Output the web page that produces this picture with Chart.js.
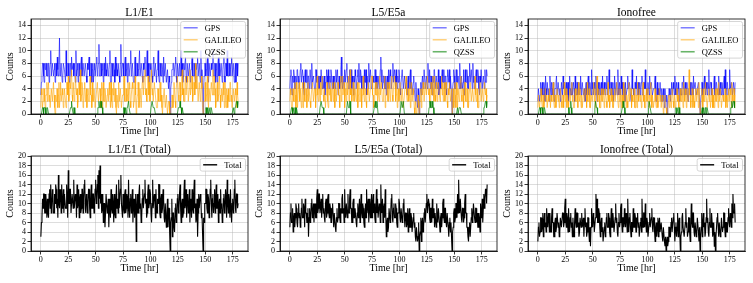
<!DOCTYPE html>
<html><head><meta charset="utf-8">
<script src="https://cdn.jsdelivr.net/npm/chart.js@4/dist/chart.umd.min.js"></script>
<style>
html,body{margin:0;padding:0;background:#fff;}
#wrap{position:relative;width:753px;height:283px;overflow:hidden;background:#fff;}
canvas{position:absolute;}
</style></head><body><div id="wrap"></div>
<script>
// ---------- DATA (half-hour samples, 0..180 hr) ----------
const hours = Array.from({length:361},(_,i)=>i/2);
const xTicks = [0,25,50,75,100,125,150,175];
const yTicksTop = [0,2,4,6,8,10,12,14];
const yTicksBottom = [0,2,4,6,8,10,12,14,16,18,20];
const seriesNames = ['GPS','GALILEO','QZSS'];
const panelTitles = ['L1/E1','L5/E5a','Ionofree','L1/E1 (Total)','L5/E5a (Total)','Ionofree (Total)'];

const gpsL1 = [
3,5,6,8,8,6,5,8,7,8,8,6,6,8,8,5,7,8,10,6,
6,8,8,6,7,8,5,8,8,6,9,7,6,8,12,6,7,8,8,5,
6,8,8,7,7,5,10,6,6,8,8,6,5,8,8,6,9,7,7,8,
6,8,8,5,10,6,7,8,5,8,8,6,6,8,9,6,7,8,8,6,
6,8,8,6,5,8,7,8,9,6,6,8,8,5,7,8,5,7,8,6,
6,8,9,6,7,8,11,6,6,8,8,6,7,8,5,8,8,6,9,7,
6,8,8,6,7,8,10,5,5,8,8,6,6,8,7,5,9,6,8,7,
6,8,8,6,5,8,11,6,7,8,8,6,6,8,9,6,7,8,5,8,
8,6,6,8,10,6,7,8,8,5,5,8,9,6,6,8,8,6,7,8,
10,6,6,8,8,6,5,8,7,8,9,6,6,8,10,6,8,5,6,8,
7,8,8,6,5,8,9,6,6,8,8,5,7,8,10,6,5,8,8,6,
6,8,7,5,9,6,6,8,8,5,5,7,7,4,6,5,0,4,5,7,
7,8,8,6,6,8,9,6,5,8,8,6,7,8,6,8,10,6,8,5,
6,8,7,8,9,6,5,8,8,6,6,8,8,5,7,8,9,6,6,8,
8,6,5,8,7,8,9,6,6,8,8,5,10,6,7,5,0,4,6,8,
8,6,7,8,9,6,5,8,8,6,6,8,7,8,10,6,6,8,8,5,
7,8,5,8,9,6,8,6,6,8,8,5,7,8,9,6,5,8,8,6,
10,6,6,8,8,6,7,8,9,6,6,8,8,5,7,8,5,8,8,6,
8];
const galL1 = [
1,4,3,1,2,4,4,2,1,3,3,5,2,4,5,2,3,1,1,4,
4,2,2,5,3,1,0,3,2,4,4,1,3,5,1,3,5,2,2,4,
3,1,2,4,4,2,1,5,5,3,6,2,3,5,4,6,7,3,2,5,
5,2,3,6,6,3,4,1,2,5,5,3,7,2,3,5,4,1,2,4,
5,2,3,4,1,3,4,2,2,5,6,3,3,1,5,2,2,4,4,1,
1,3,3,5,5,2,2,4,4,1,3,5,1,4,5,2,2,4,3,1,
1,3,4,2,2,5,3,1,5,2,1,4,3,5,2,4,4,1,0,3,
3,1,5,2,2,4,4,1,1,3,3,5,6,2,2,4,4,2,3,5,
2,4,5,2,1,3,3,5,4,1,2,4,6,3,0,2,3,5,5,1,
2,4,4,1,1,5,6,3,3,6,7,3,4,2,2,6,6,3,5,2,
3,6,7,3,4,2,2,5,5,3,3,1,1,4,4,2,2,5,5,2,
3,1,0,2,2,4,4,1,1,3,3,0,0,2,2,0,0,1,1,3,
3,1,2,5,5,2,1,4,4,6,6,3,2,5,5,2,3,6,7,3,
4,2,2,5,6,3,3,6,5,2,2,4,7,3,4,6,6,2,3,5,
5,3,8,4,4,6,6,2,2,5,5,2,3,6,4,1,0,2,2,4,
5,2,3,5,6,2,1,4,4,2,2,5,5,3,7,3,3,6,4,1,
2,4,5,2,3,5,6,3,1,3,4,2,2,5,3,1,5,3,1,4,
3,1,4,2,2,5,5,2,3,1,1,4,4,2,2,4,3,1,5,3,
2];
const qzssL1 = [
0,0,0,1,1,0,1,1,1,0,0,1,1,1,0,0,0,0,0,0,
0,0,0,0,0,0,0,0,0,0,0,0,0,0,0,0,0,0,0,0,
0,0,0,0,0,0,0,0,0,0,0,0,0,0,1,1,2,1,1,0,
1,1,0,0,0,0,0,0,0,0,0,0,0,0,0,0,0,0,0,0,
0,0,0,0,0,0,0,0,0,0,0,0,0,0,0,0,0,0,0,0,
0,0,0,0,1,1,2,1,1,2,2,1,1,0,0,0,0,0,0,0,
0,0,0,0,0,0,0,0,0,0,0,0,0,0,0,0,0,0,0,0,
0,0,0,0,0,0,0,0,0,0,0,1,1,0,1,1,0,1,1,1,
2,1,1,0,0,0,0,0,0,0,0,0,0,0,0,0,0,0,0,0,
0,0,0,0,0,0,0,0,0,0,0,0,0,0,0,0,0,0,0,0,
0,1,1,2,2,1,1,1,1,0,0,0,0,0,0,0,0,0,0,0,
0,0,0,0,0,0,0,0,0,0,0,0,0,0,0,0,0,0,0,0,
0,0,0,0,0,0,0,0,0,0,0,1,1,1,2,1,1,0,1,1,
0,0,0,0,0,0,0,0,0,0,0,0,0,0,0,0,0,0,0,0,
0,0,0,0,0,0,0,0,0,0,0,0,0,0,0,0,0,0,0,0,
0,1,1,0,1,1,0,1,1,0,1,1,1,0,0,0,0,0,0,0,
0,0,0,0,0,0,0,0,0,0,0,0,0,0,0,0,0,0,0,0,
0,0,0,0,0,0,0,0,0,0,0,1,1,0,1,1,1,2,2,1,
2];
const totalL1 = [
3,6,7,11,9,12,12,8,8,12,10,7,11,8,7,12,13,9,14,8,
9,13,12,8,8,12,10,14,13,9,11,7,16,10,9,13,12,8,14,9,
10,13,8,12,12,9,9,14,11,7,17,10,10,13,13,8,8,12,12,9,
15,9,9,12,11,7,14,9,10,13,7,11,12,8,9,13,13,8,11,14,
15,9,8,12,11,8,10,13,13,9,7,11,14,9,9,12,12,8,10,13,
15,10,11,14,16,9,17,11,18,10,12,8,9,12,6,10,10,5,8,12,
12,8,9,11,5,9,11,7,13,9,8,12,10,6,12,8,7,11,14,9,
11,8,15,9,9,13,16,10,10,7,12,9,8,12,13,8,9,12,11,7,
15,9,7,11,12,8,10,13,6,10,11,7,9,12,2,9,12,8,8,12,
14,9,10,6,7,11,13,9,9,12,15,10,11,7,8,12,14,9,10,13,
12,8,6,10,15,9,9,12,11,7,13,9,8,11,10,14,14,8,7,11,
12,8,9,13,11,7,6,10,10,5,8,11,5,9,9,4,0,6,7,11,
3,8,8,5,4,9,10,6,7,11,12,8,9,12,14,9,6,10,11,7,
8,12,15,9,10,13,7,11,12,8,9,13,6,10,11,7,13,9,8,12,
15,9,10,6,7,11,3,8,12,9,9,12,11,7,8,4,0,7,6,10,
10,13,13,9,8,12,11,7,9,13,15,10,7,11,12,8,10,13,8,11,
14,9,9,12,6,10,11,8,13,9,10,6,7,11,12,8,9,13,11,7,
15,10,8,12,10,7,13,9,6,10,11,8,9,13,15,9,8,12,12,9,
10];

const gpsL5 = [
4,6,7,4,3,6,5,7,6,4,4,6,5,7,7,5,6,4,4,7,
8,5,5,7,6,4,3,6,7,5,5,7,4,6,6,4,5,7,7,4,
8,5,5,6,6,4,4,7,7,5,5,6,6,4,4,6,5,7,7,4,
6,4,4,6,3,5,5,7,6,4,7,5,4,6,5,7,6,4,5,6,
4,6,6,4,7,5,5,7,3,5,6,4,5,7,9,5,4,6,6,4,
7,5,5,7,8,5,6,4,4,7,5,7,7,4,6,5,3,6,5,7,
6,4,4,6,7,5,8,5,5,7,6,4,4,6,6,4,7,5,5,7,
3,6,6,4,8,5,5,7,7,4,4,6,6,5,5,7,7,4,6,5,
4,6,6,4,5,7,9,5,7,4,5,6,6,4,4,6,3,5,6,4,
7,5,5,7,6,4,4,6,8,5,5,7,6,4,7,5,4,6,5,7,
6,4,3,5,5,7,7,4,4,6,6,4,5,6,3,5,6,4,4,6,
7,4,5,3,3,5,6,4,4,2,5,3,3,1,4,2,0,3,4,5,
3,5,6,4,5,7,7,4,4,6,6,4,8,5,5,7,4,6,6,4,
3,6,5,7,7,4,4,6,6,4,5,7,3,5,6,4,4,6,7,5,
5,7,4,6,6,4,3,6,7,5,5,7,4,6,6,3,0,4,5,7,
6,4,4,7,7,5,5,6,6,4,8,5,4,6,6,4,5,7,3,5,
7,5,5,7,6,4,4,6,8,5,5,7,7,4,8,5,6,4,4,6,
7,5,5,7,6,4,3,6,5,7,7,4,4,6,6,4,7,5,5,7,
6];
const galL5 = [
2,4,3,1,1,4,4,2,2,5,3,1,5,2,1,3,3,5,2,4,
4,1,3,5,1,3,5,2,2,4,4,1,3,5,2,4,4,2,1,3,
3,5,5,2,2,4,4,1,3,5,6,3,2,4,4,2,5,3,3,6,
6,3,2,4,4,1,3,5,5,2,1,4,3,5,4,2,2,4,5,2,
3,5,1,3,4,2,2,5,5,3,3,1,4,6,2,4,6,3,3,5,
1,3,4,2,5,3,3,6,2,4,7,3,4,2,3,5,5,2,2,4,
4,2,3,5,1,3,5,2,2,4,4,1,3,5,6,3,2,4,4,2,
1,4,3,5,5,2,2,4,4,6,6,3,3,1,2,4,5,3,3,5,
2,4,4,2,6,3,3,5,5,2,2,4,4,6,1,3,3,5,5,2,
2,5,4,2,3,5,6,3,2,4,4,6,5,2,3,5,1,3,4,2,
3,5,5,2,2,4,4,1,1,3,3,5,6,3,2,4,4,2,3,5,
1,3,5,2,2,4,3,1,0,2,2,0,1,3,3,1,0,2,2,4,
1,4,3,5,4,2,2,5,5,3,3,6,6,3,4,2,2,5,5,3,
3,6,4,2,6,3,2,5,4,2,3,5,5,3,2,4,4,6,3,5,
2,4,5,2,3,5,4,2,1,4,3,5,5,2,2,4,0,2,4,1,
2,5,3,1,5,3,1,4,4,2,3,5,6,3,2,4,4,1,3,5,
5,2,2,4,4,1,1,3,3,5,5,2,2,4,4,2,3,5,6,3,
2,4,4,1,1,3,3,5,5,2,2,4,4,2,3,5,5,3,4,2,
3];
const qzssL5 = [
0,0,0,1,1,0,1,1,0,1,1,0,1,1,0,0,0,0,0,0,
0,0,0,0,0,0,0,0,0,0,0,0,0,0,0,0,0,0,0,0,
0,0,0,0,0,0,0,0,0,0,0,0,0,0,0,1,1,2,2,1,
1,1,0,0,0,0,0,0,0,0,0,0,0,0,0,0,0,0,0,0,
0,0,0,0,0,0,0,0,0,0,0,0,0,0,0,0,0,0,0,0,
0,0,0,0,0,2,2,1,1,2,2,0,0,0,0,0,0,0,0,0,
0,0,0,0,0,0,0,0,0,0,0,0,0,0,0,0,0,0,0,0,
0,0,0,0,0,0,0,0,0,0,0,0,0,0,1,1,2,1,1,2,
1,0,0,0,0,0,0,0,0,0,0,0,0,0,0,0,0,0,0,0,
0,0,0,0,0,0,0,0,0,0,0,0,0,0,0,0,0,0,0,0,
0,0,0,2,2,1,1,2,2,0,0,0,0,0,0,0,0,0,0,0,
0,0,0,0,0,0,0,0,0,0,0,0,0,0,0,0,0,0,0,0,
0,0,0,0,0,0,0,0,0,0,0,0,0,0,1,2,2,1,1,2,
2,1,1,0,0,0,0,0,0,0,0,0,0,0,0,0,0,0,0,0,
0,0,0,0,0,0,0,0,0,0,0,0,0,0,0,0,0,0,0,0,
0,0,0,0,0,0,1,0,0,1,1,1,1,0,0,0,0,0,0,0,
0,0,0,0,0,0,0,0,0,0,0,0,0,0,0,0,0,0,0,0,
0,0,0,0,0,0,0,0,0,0,0,0,0,0,1,1,1,2,2,1,
2];
const totalL5 = [
5,8,10,6,6,9,4,7,8,5,7,10,9,6,5,8,10,7,8,5,
6,9,11,7,7,10,9,5,11,8,8,6,6,9,3,7,9,6,7,10,
11,7,8,10,6,9,10,7,7,11,13,8,9,12,12,8,8,11,7,10,
12,8,9,7,6,10,11,7,8,11,12,8,7,10,9,6,6,9,10,7,
5,8,8,5,4,7,9,6,7,10,10,7,6,9,8,11,12,8,9,6,
13,8,7,10,10,7,12,8,8,11,13,9,9,6,6,10,11,7,7,9,
9,6,5,8,10,7,8,11,6,9,12,8,7,10,9,6,5,8,10,7,
13,8,8,11,6,9,11,7,9,12,7,10,12,8,10,7,6,9,13,8,
11,7,7,10,9,6,14,9,8,11,6,9,10,7,13,8,3,6,7,4,
5,9,9,6,8,11,12,7,6,9,10,7,7,10,9,6,5,8,8,11,
10,7,6,9,9,6,7,10,11,7,5,8,8,5,6,9,4,7,9,5,
5,8,7,4,4,7,8,5,6,3,2,5,5,2,3,6,0,3,4,7,
2,6,7,4,5,8,9,6,6,10,12,8,8,11,10,7,6,9,9,6,
11,7,7,9,5,8,8,5,10,7,6,9,9,6,4,7,8,5,7,10,
11,7,6,9,9,6,5,8,8,5,3,6,7,4,6,3,0,4,5,8,
9,6,7,10,10,7,12,8,15,9,8,11,11,7,6,9,9,6,7,10,
12,8,8,5,5,3,2,5,6,3,3,7,9,6,7,10,10,7,6,9,
9,6,8,5,5,8,7,4,10,7,8,11,6,9,12,9,11,13,13,10,
14];

const gpsIF = [
2,4,4,2,3,5,4,3,5,3,3,5,4,2,6,4,3,5,5,3,
4,2,6,4,3,5,4,3,5,3,2,4,4,5,6,3,3,5,5,3,
4,2,3,5,5,3,6,4,4,5,3,4,5,3,4,5,2,4,6,3,
4,3,5,3,3,5,4,2,6,4,3,5,5,3,4,5,3,4,6,3,
4,5,5,3,3,4,2,4,5,3,4,5,6,3,3,5,4,3,7,4,
5,3,3,5,4,3,6,4,2,4,5,3,4,5,3,4,5,3,6,4,
3,5,4,3,5,4,6,3,4,5,7,4,3,5,5,3,4,5,2,4,
6,3,4,5,5,3,7,4,3,5,4,3,6,4,5,3,3,5,4,2,
5,3,3,4,6,4,4,5,5,3,2,4,7,4,4,3,3,5,5,4,
6,3,4,5,3,4,5,3,4,5,6,3,3,5,5,4,7,4,4,3,
3,5,5,3,6,4,4,5,5,3,3,4,4,5,6,3,2,4,5,3,
4,3,3,5,5,2,4,3,2,4,3,1,4,2,2,3,0,2,3,4,
4,3,2,4,5,3,3,5,4,3,6,4,3,5,4,3,5,4,2,4,
4,3,3,5,5,4,6,3,4,5,3,4,5,3,2,4,4,5,5,3,
3,5,4,3,6,4,4,5,5,3,3,4,4,5,5,2,0,2,3,5,
5,3,4,5,6,4,3,5,4,3,5,4,7,3,4,5,5,3,3,4,
4,5,6,3,3,5,5,4,4,3,6,4,3,5,4,3,5,4,3,5,
6,4,7,3,4,5,5,3,3,4,7,4,4,5,5,3,3,5,4,3,
5];
const galIF = [
1,3,3,1,2,4,4,2,1,3,3,1,2,4,4,2,3,1,1,3,
2,4,4,1,3,2,2,4,5,2,1,3,3,1,2,4,4,2,3,1,
2,4,4,2,1,3,3,1,5,3,2,4,4,1,3,2,1,3,4,2,
2,4,5,2,3,1,1,3,4,2,2,4,3,1,5,3,2,4,4,1,
3,1,1,3,4,2,2,4,3,1,5,2,2,4,4,1,1,3,3,2,
2,4,5,2,4,1,3,5,6,2,2,4,3,1,1,3,4,2,2,4,
3,1,2,4,4,2,1,3,5,2,3,1,2,4,4,2,3,1,1,3,
4,2,2,4,5,3,3,1,4,2,2,4,1,3,3,1,5,2,2,4,
4,1,3,2,1,3,5,2,2,4,4,1,3,2,2,4,4,1,1,3,
3,1,5,3,2,4,4,2,3,1,2,4,5,2,3,1,1,3,4,2,
2,4,4,1,3,2,5,3,1,3,3,1,2,4,4,2,1,3,3,1,
2,4,4,2,3,1,1,3,2,0,1,2,3,1,1,0,0,1,2,3,
1,3,3,1,2,4,4,2,1,3,3,1,2,4,4,2,3,1,1,3,
4,2,2,4,3,1,5,3,2,4,3,1,4,2,2,4,7,3,3,1,
2,4,4,1,3,2,1,3,4,2,2,4,3,1,5,2,0,1,2,4,
3,1,4,2,2,4,5,3,3,1,1,3,4,2,3,1,2,4,4,1,
3,1,1,3,4,2,2,4,3,1,5,2,2,4,4,1,1,3,3,2,
2,4,4,1,3,2,1,3,4,2,2,4,3,1,5,3,2,4,4,1,
3];
const qzssIF = [
0,0,0,1,1,0,1,1,1,0,0,1,1,1,0,0,0,0,0,0,
0,0,0,0,0,0,0,0,0,0,0,0,0,0,0,0,0,0,0,0,
0,0,0,0,0,0,0,0,0,0,0,0,0,0,0,0,1,0,1,1,
2,1,0,0,0,0,0,0,0,0,0,0,0,0,0,0,0,0,0,0,
0,0,0,0,0,0,0,0,0,0,0,0,0,0,0,0,0,0,0,0,
0,0,0,0,1,2,2,1,1,0,0,0,0,0,0,0,0,0,0,0,
0,0,0,0,0,0,0,0,0,0,0,0,0,0,0,0,0,0,0,0,
0,0,0,0,0,0,0,0,0,0,0,0,0,0,1,2,2,1,1,0,
0,0,0,0,0,0,0,0,0,0,0,0,0,0,0,0,0,0,0,0,
0,0,0,0,0,0,0,0,0,0,0,0,0,0,0,0,0,0,0,0,
0,0,1,2,2,1,1,0,0,0,0,0,0,0,0,0,0,0,0,0,
0,0,0,0,0,0,0,0,0,0,0,0,0,0,0,0,0,0,0,0,
0,0,0,0,0,0,0,0,0,0,0,0,1,0,1,1,0,1,1,0,
0,0,0,0,0,0,0,0,0,0,0,0,0,0,0,0,0,0,0,0,
0,0,0,0,0,0,0,0,0,0,0,0,0,0,0,0,0,0,0,0,
1,0,1,1,0,1,1,0,1,1,1,0,0,0,0,0,0,0,0,0,
0,0,0,0,0,0,0,0,0,0,0,0,0,0,0,0,0,0,0,0,
0,0,0,0,0,0,0,0,0,0,0,0,1,1,2,1,1,2,2,1,
1];
const totalIF = [
2,5,6,3,4,7,7,4,5,8,3,6,8,5,6,4,9,6,5,8,
7,4,8,5,4,7,9,6,6,3,3,6,7,4,5,8,8,5,6,3,
4,7,7,5,5,8,8,5,6,9,11,6,5,8,7,4,9,6,4,7,
8,5,6,3,7,4,3,6,9,6,5,8,8,5,6,3,4,7,7,5,
8,5,5,7,3,6,9,5,6,3,4,7,7,4,2,5,1,5,9,6,
5,8,7,4,4,7,12,7,11,6,6,9,8,5,3,6,7,4,5,2,
2,5,6,3,4,7,8,5,5,8,7,4,3,6,9,5,5,8,6,4,
4,7,10,6,7,4,3,6,8,5,6,9,10,6,4,7,7,5,9,6,
5,8,7,4,11,6,4,7,8,5,3,6,6,4,9,5,5,8,7,4,
4,7,8,5,6,3,3,6,7,4,11,6,5,8,8,5,10,6,4,7,
6,3,3,6,8,5,5,7,9,5,4,7,7,4,2,5,6,3,5,7,
3,6,7,4,4,6,6,3,2,5,5,2,1,3,0,2,3,1,2,5,
5,3,3,6,7,4,4,7,8,5,2,5,6,3,5,8,3,6,7,4,
0,3,4,7,8,5,5,3,3,6,9,5,6,3,4,7,7,4,2,5,
10,6,5,8,8,4,3,6,6,3,4,7,7,4,2,5,0,3,5,8,
3,6,8,5,6,3,4,7,11,6,7,4,3,6,9,5,5,8,6,3,
4,6,1,4,0,3,5,7,8,5,3,6,6,3,4,7,7,4,5,8,
8,5,3,6,6,4,4,7,9,6,5,8,7,5,10,7,12,8,8,10,
6];

// ---------- STYLE / LAYOUT ----------
const FONT = "'Liberation Serif', 'Times New Roman', serif";
const COLORS = {GPS:'rgba(0,0,255,0.6)', GALILEO:'rgba(255,165,0,0.6)', QZSS:'rgba(0,128,0,0.7)', Total:'#000'};
const COLS = [31,280,528];
const ROWS = [19,156];
const YW = 31, PW = 217, RPAD = 4, TOPPAD = 19, PH = 95, XH = 30;
const GRID = 'rgba(176,176,176,0.55)';

const framePlugin = {id:'frame', afterDatasetsDraw(chart){
  const {ctx, chartArea:a} = chart; ctx.save();
  ctx.strokeStyle='#000'; ctx.lineWidth=0.8;
  ctx.strokeRect(a.left, a.top, a.right-a.left, a.bottom-a.top); ctx.restore();
}};
const titlePlugin = {id:'ptitle', afterDraw(chart, args, o){
  const {ctx, chartArea:a} = chart; ctx.save();
  ctx.font = o.size+'px '+FONT; ctx.fillStyle='#000';
  ctx.textAlign='center'; ctx.textBaseline='alphabetic';
  ctx.fillText(o.text, (a.left+a.right)/2, a.top - o.gap); ctx.restore();
}};
const legendPlugin = {id:'boxLegend', afterDraw(chart, args, o){
  const {ctx, chartArea:a} = chart; const ds = chart.data.datasets;
  ctx.save(); ctx.font = o.size+'px '+FONT;
  const tw = Math.max(...ds.map(d=>ctx.measureText(d.label).width));
  const w = o.padL + o.lineLen + o.gap + tw + o.padR;
  const h = ds.length*o.rowH + 2*o.padV;
  const x = a.right - o.inset - w, y = a.top + o.inset;
  ctx.beginPath();
  if (ctx.roundRect) ctx.roundRect(x,y,w,h,2); else ctx.rect(x,y,w,h);
  ctx.fillStyle='rgba(255,255,255,0.8)'; ctx.fill();
  ctx.strokeStyle='#cccccc'; ctx.lineWidth=0.8; ctx.stroke();
  ds.forEach((d,i)=>{
    const cy = y + o.padV + o.rowH*(i+0.5);
    ctx.beginPath(); ctx.moveTo(x+o.padL, cy); ctx.lineTo(x+o.padL+o.lineLen, cy);
    ctx.strokeStyle=d.borderColor; ctx.lineWidth=d.borderWidth+0.3; ctx.stroke();
    ctx.fillStyle='#000'; ctx.textAlign='left'; ctx.textBaseline='middle';
    ctx.fillText(d.label, x+o.padL+o.lineLen+o.gap, cy+0.5);
  });
  ctx.restore();
}};

const wrap = document.getElementById('wrap');
function makePanel(idx, col, row, series, ymax, yTicks){
  const cv = document.createElement('canvas');
  const W = YW+PW+RPAD, H = TOPPAD+PH+XH;
  cv.width=W; cv.height=H; cv.style.width=W+'px'; cv.style.height=H+'px';
  cv.style.left=(COLS[col]-YW)+'px'; cv.style.top=(ROWS[row]-TOPPAD)+'px';
  wrap.appendChild(cv);
  const n = series.length;
  new Chart(cv, {
    type:'line',
    data:{datasets: series.map((s,i)=>({
      label:s.label,
      data: s.values.map((v,j)=>({x:hours[j], y:v})),
      borderColor: COLORS[s.label], borderWidth: s.label==='Total'?1.1:1,
      pointRadius:0, tension:0, fill:false, order:n-i
    }))},
    options:{
      responsive:false, animation:false, devicePixelRatio:1, parsing:false, normalized:true,
      layout:{padding:{top:TOPPAD,right:RPAD,left:0,bottom:0}},
      events:[],
      plugins:{legend:{display:false}, tooltip:{enabled:false}, title:{display:false},
        ptitle:{text:panelTitles[idx], size:11.5, gap:3},
        boxLegend:{size:8.5, rowH:12, padV:0.3, padL:3, lineLen:14, gap:7, padR:4, inset:2.5}},
      scales:{
        x:{type:'linear', min:-9, max:189,
          afterBuildTicks:s=>{s.ticks = xTicks.map(v=>({value:v}));},
          afterFit:s=>{s.height = XH;},
          ticks:{font:{family:FONT,size:8}, color:'#000', padding:1, maxRotation:0, autoSkip:false, callback:v=>String(v)},
          grid:{color:GRID, lineWidth:0.8, tickLength:3.5, tickColor:'#000', tickWidth:0.8},
          border:{display:true, color:'#000', width:0.8},
          title:{display:true, text:'Time [hr]', font:{family:FONT,size:10}, color:'#000', padding:{top:0,bottom:6.5}}},
        y:{type:'linear', min:0, max:ymax,
          afterBuildTicks:s=>{s.ticks = yTicks.map(v=>({value:v}));},
          afterFit:s=>{s.width = YW;},
          ticks:{font:{family:FONT,size:8}, color:'#000', padding:1.5, autoSkip:false, callback:v=>String(v)},
          grid:{color:GRID, lineWidth:0.8, tickLength:3.5, tickColor:'#000', tickWidth:0.8},
          border:{display:true, color:'#000', width:0.8},
          title:{display:true, text:'Counts', font:{family:FONT,size:10}, color:'#000', padding:{top:4.5,bottom:0}}}
      }
    },
    plugins:[framePlugin, titlePlugin, legendPlugin]
  });
}

const mk = (vals)=>vals.map((v,i)=>({label:seriesNames[i], values:v}));
makePanel(0,0,0, mk([gpsL1,galL1,qzssL1]), 15, yTicksTop);
makePanel(1,1,0, mk([gpsL5,galL5,qzssL5]), 15, yTicksTop);
makePanel(2,2,0, mk([gpsIF,galIF,qzssIF]), 15, yTicksTop);
makePanel(3,0,1, [{label:'Total', values:totalL1}], 20, yTicksBottom);
makePanel(4,1,1, [{label:'Total', values:totalL5}], 20, yTicksBottom);
makePanel(5,2,1, [{label:'Total', values:totalIF}], 20, yTicksBottom);
</script></body></html>
